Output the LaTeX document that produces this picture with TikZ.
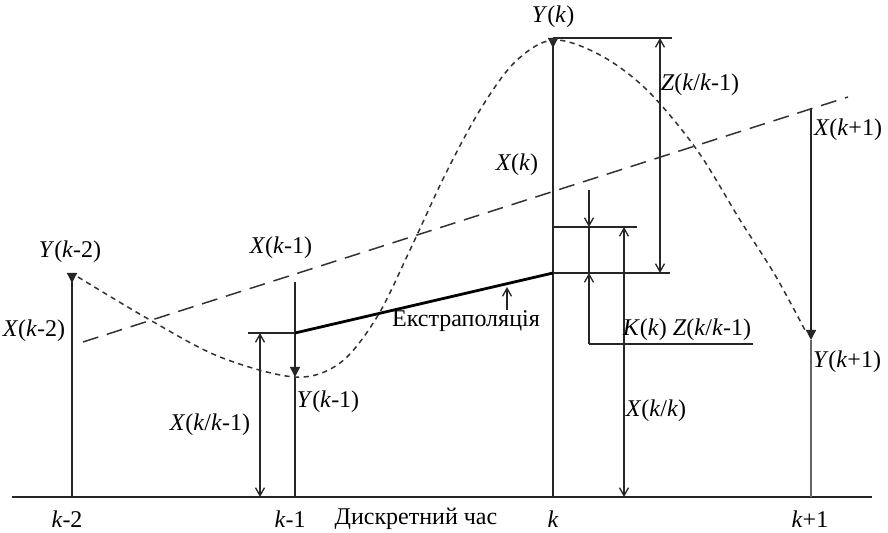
\documentclass[tikz,border=0pt]{standalone}
\usepackage{fontspec}
\setmainfont{Liberation Serif}
\usetikzlibrary{arrows.meta}

\newcommand{\ik}{\textit{k}}

\begin{document}
\begin{tikzpicture}[
  x=0.5pt, y=-0.5pt,
  line join=round,
  thinline/.style={line width=0.65pt, black!85},
  openarr/.style={-{Straight Barb[length=4pt,width=4.5pt]}},
  dblarr/.style={{Straight Barb[length=4pt,width=4.5pt]}-{Straight Barb[length=4pt,width=4.5pt]}},
  topmark/.style={{Triangle[reversed,length=5pt,width=5pt]}-},
  endmark/.style={-{Triangle[length=5pt,width=5pt]}},
  every node/.style={font=\fontsize{12}{14}\selectfont, inner sep=1pt}
]
  \useasboundingbox (0,0) rectangle (888,533);

  % Time axis and the base points of the samples
  \coordinate (ax0) at ( 12,497);
  \coordinate (ax1) at (872,497);
  \coordinate (b2)  at ( 72,497);
  \coordinate (b1)  at (295,497);
  \coordinate (b0)  at (553,497);
  \coordinate (bp)  at (811,497);

  % Measured values Y and predicted values X
  \coordinate (yk2) at ( 72,273);
  \coordinate (xk1) at (295,282);
  \coordinate (yk1) at (295,377);
  \coordinate (yk)  at (553, 38);
  \coordinate (xkp) at (811,108);
  \coordinate (ykp) at (811,340);

  % Extrapolation segment and reference levels
  \coordinate (e0)  at (295,333);
  \coordinate (e1)  at (553,273);
  \coordinate (h0)  at (248,333);
  \coordinate (h1)  at (670,273);
  \coordinate (ht)  at (672, 38);
  \coordinate (hk0) at (553,227);
  \coordinate (hk1) at (637,227);

  % Dimension arrows
  \coordinate (zt)  at (660, 38);
  \coordinate (zb)  at (660,273);
  \coordinate (ka)  at (589,190);
  \coordinate (kb)  at (589,227);
  \coordinate (kc)  at (589,273);
  \coordinate (kd)  at (589,344);
  \coordinate (ke)  at (753,344);
  \coordinate (xt)  at (624,227);
  \coordinate (xb)  at (624,497);
  \coordinate (pt)  at (260,333);
  \coordinate (pb)  at (260,497);
  \coordinate (la)  at (507,310);
  \coordinate (lb)  at (507,287);

  % Trend line (long dashes)
  \coordinate (d0)  at ( 83,342);
  \coordinate (d1)  at (848, 97);

  % Axis
  \draw[thinline] (ax0) -- (ax1);

  % Sample lines
  \draw[thinline, topmark] (yk2) -- (b2);
  \draw[thinline, endmark] (xk1) -- (yk1);
  \draw[thinline] (yk1) -- (b1);
  \draw[thinline, topmark] (yk) -- (b0);
  \draw[thinline, endmark] (xkp) -- (ykp);
  \draw[line width=0.65pt, black!60] (ykp) -- (bp);

  % Levels
  \draw[thinline] (h0) -- (e0);
  \draw[thinline] (e1) -- (h1);
  \draw[thinline] (yk) -- (ht);
  \draw[thinline] (hk0) -- (hk1);
  \draw[thinline] (kd) -- (ke);

  % Extrapolation (heavy line)
  \draw[line width=1.4pt] (e0) -- (e1);

  % Dimension arrows
  \draw[thinline, dblarr] (zt) -- (zb);
  \draw[thinline, openarr] (ka) -- (kb);
  \draw[thinline] (kb) -- (kc);
  \draw[thinline, openarr] (kd) -- (kc);
  \draw[thinline, dblarr] (xt) -- (xb);
  \draw[thinline, dblarr] (pt) -- (pb);
  \draw[thinline, openarr] (la) -- (lb);

  % Trend line
  \draw[black!80, line width=0.75pt, dash pattern=on 8pt off 4.5pt] (d0) -- (d1);

  % Measured signal (short dashes)
  \draw[black!80, line width=0.75pt, dash pattern=on 2.6pt off 2.2pt]
    plot[smooth, tension=0.55] coordinates {
      (78,277) (150,320) (220,357) (295,377) (340,363) (377,317)
      (410,250) (445,175) (480,110) (515,62) (553,40) (600,55)
      (647,90) (697,150) (740,220) (775,275) (806,332)};

  % Labels
  \node (lYk2) at ( 70,252) {\textit{Y}(\ik-2)};
  \node (lXk2) at ( 34,331) {\textit{X}(\ik-2)};
  \node (lXk1) at (281,248) {\textit{X}(\ik-1)};
  \node (lYk1) at (328,402) {\textit{Y}(\ik-1)};
  \node (lP)   at (210,425) {\textit{X}(\ik/\ik-1)};
  \node (lExt) at (466,321) {Екстраполяція};
  \node (lYk)  at (553, 17) {\textit{Y}(\ik)};
  \node (lZ)   at (700, 85) {\textit{Z}(\ik/\ik-1)};
  \node (lXk)  at (517,165) {\textit{X}(\ik)};
  \node (lKZ)  at (687,330) {\textit{K}(\ik) \textit{Z}(\ik/\ik-1)};
  \node (lXkk) at (656,411) {\textit{X}(\ik/\ik)};
  \node (lXkp) at (848,130) {\textit{X}(\ik+1)};
  \node (lYkp) at (847,362) {\textit{Y}(\ik+1)};

  % Axis labels
  \node (t2)   at ( 67,519) {\ik-2};
  \node (t1)   at (290,519) {\ik-1};
  \node (tax)  at (416,519) {Дискретний час};
  \node (t0)   at (553,519) {\ik};
  \node (tp)   at (810,519) {\ik+1};
\end{tikzpicture}
\end{document}
